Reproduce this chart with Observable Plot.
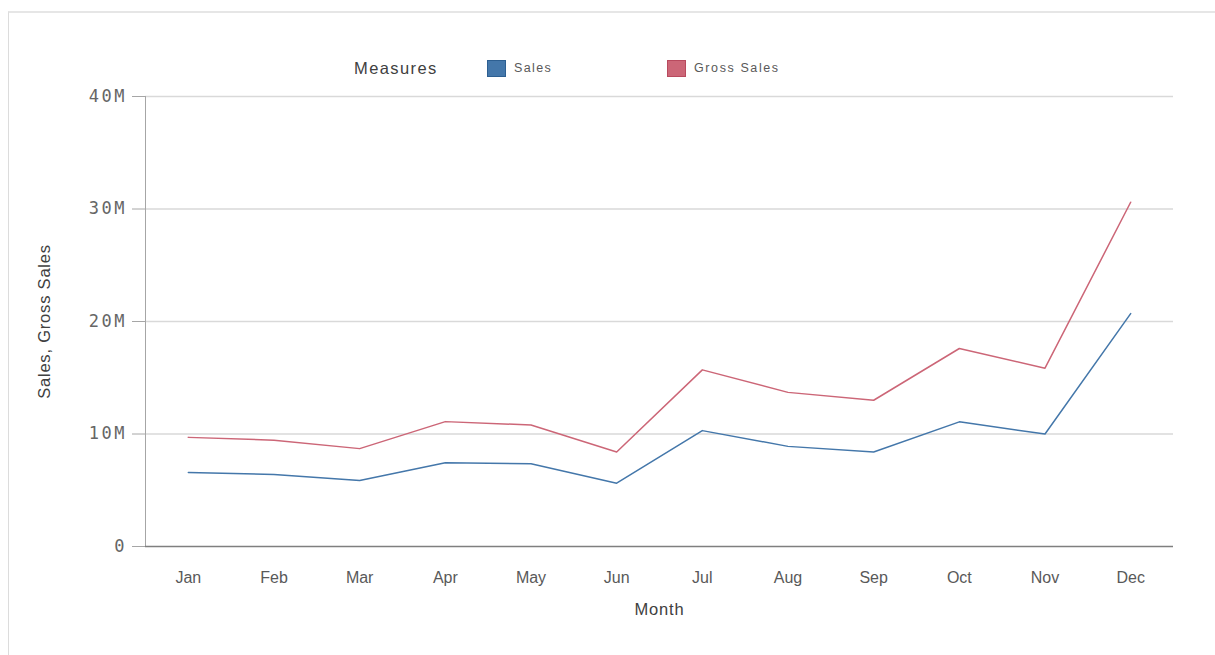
<!DOCTYPE html>
<html>
<head>
<meta charset="utf-8">
<script src="https://cdn.jsdelivr.net/npm/d3@7"></script>
<script src="https://cdn.jsdelivr.net/npm/@observablehq/plot@0.6"></script>
<style>
  html, body { margin: 0; padding: 0; background: #fff; width: 1215px; height: 655px; overflow: hidden; }
  #frame { position: absolute; left: 8px; top: 11px; width: 1220px; height: 660px; border-left: 1px solid #dcdcdc; border-top: 2px solid #e6e6e6; box-sizing: border-box; }
  #chart { position: absolute; left: 0; top: 0; }
  .leg { position: absolute; font-family: "Liberation Sans", Arial, sans-serif; color: #404040; white-space: nowrap; }
  .sw { position: absolute; width: 19px; height: 17px; box-sizing: border-box; }
</style>
</head>
<body>
<div id="frame"></div>
<div id="chart"></div>
<div class="leg" style="left:354px; top:59px; font-size:16.5px; letter-spacing:1.4px;">Measures</div>
<div class="sw" style="left:487px; top:60px; background:#4477aa; border:1px solid #2d5f91;"></div>
<div class="leg" style="left:514px; top:61px; font-size:12.5px; letter-spacing:1.4px; color:#595959;">Sales</div>
<div class="sw" style="left:667px; top:60px; background:#cc6677; border:1px solid #b84a5e;"></div>
<div class="leg" style="left:694px; top:61px; font-size:12.5px; letter-spacing:1.6px; color:#595959;">Gross Sales</div>
<script>
const months = ["Jan","Feb","Mar","Apr","May","Jun","Jul","Aug","Sep","Oct","Nov","Dec"];
const sales = [6.58, 6.4, 5.87, 7.44, 7.35, 5.63, 10.3, 8.9, 8.4, 11.08, 10.0, 20.7];
const grossSales = [9.7, 9.45, 8.7, 11.1, 10.8, 8.4, 15.7, 13.7, 13.0, 17.6, 15.85, 30.6];
const yTicks = [0, 10, 20, 30, 40];
const seriesNames = ["Sales", "Gross Sales"];
const seriesColors = ["#4477aa", "#cc6677"];

const rows = [];
months.forEach((m, i) => {
  rows.push({month: m, series: seriesNames[0], value: sales[i] * 1e6});
  rows.push({month: m, series: seriesNames[1], value: grossSales[i] * 1e6});
});

const chart = Plot.plot({
  width: 1215,
  height: 655,
  marginLeft: 145,
  marginRight: 42,
  marginTop: 96,
  marginBottom: 109,
  style: {fontFamily: "'Liberation Sans', Arial, sans-serif", background: "transparent", overflow: "visible"},
  x: {type: "point", domain: months, padding: 0.5, round: false},
  y: {domain: [0, 40e6]},
  color: {domain: seriesNames, range: seriesColors},
  marks: [
    Plot.ruleY(yTicks.filter(d => d > 0).map(d => d * 1e6), {stroke: "#d9d9d9", strokeWidth: 1.3}),
    Plot.axisY(yTicks.map(d => d * 1e6), {
      tickSize: 13, tickPadding: 8, fontSize: 17, stroke: "#a6a6a6",
      fill: "#666666", fontFamily: "'DejaVu Sans Mono', monospace",
      tickFormat: d => d === 0 ? "0" : (d / 1e6) + "M", label: null
    }),
    Plot.axisX({tickSize: 0, tickPadding: 25, fontSize: 16, fill: "#595959", label: null}),
    Plot.frame({anchor: "left", stroke: "#a6a6a6"}),
    Plot.ruleY([0], {stroke: "#7f7f7f", strokeWidth: 1.5}),
    Plot.line(rows, {x: "month", y: "value", stroke: "series", strokeWidth: 1.5}),
    Plot.text(["Month"], {frameAnchor: "bottom", dy: 68, fontSize: 16.5, fill: "#404040"}),
    Plot.text(["Sales, Gross Sales"], {frameAnchor: "left", textAnchor: "middle", dx: -101, rotate: -90, fontSize: 16.5, fill: "#404040"})
  ]
});
d3.select(chart).selectAll("g[aria-label='y-axis tick label'] text").attr("letter-spacing", "2.5px").attr("dx", "2.5px");
d3.select(chart).selectAll("g[aria-label='text'] text").attr("letter-spacing", "0.8px");
document.getElementById("chart").appendChild(chart);
</script>
</body>
</html>
